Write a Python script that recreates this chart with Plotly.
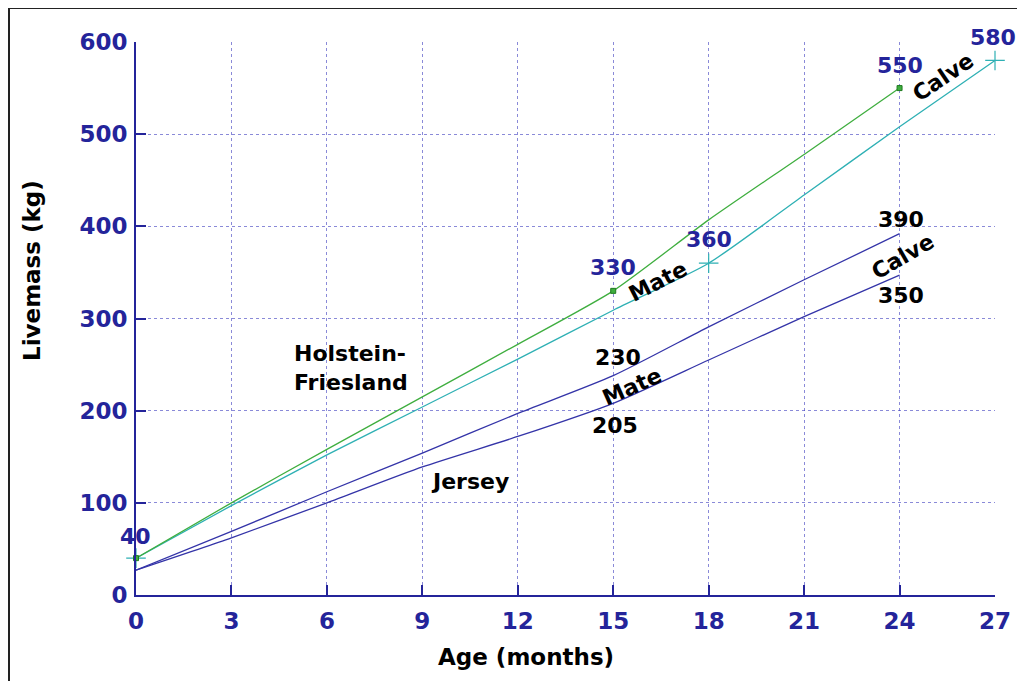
import plotly.graph_objects as go

# ---- data ----
hf_green_x = [0, 3, 6, 9, 12, 15, 18, 21, 24]
hf_green_y = [40, 100, 158, 215, 272, 330, 407, 478, 550]
hf_green_mark_x = [0, 15, 24]
hf_green_mark_y = [40, 330, 550]

hf_cyan_x = [0, 3, 6, 9, 12, 15, 18, 21, 24, 27]
hf_cyan_y = [40, 97, 152, 204, 256, 309, 360, 434, 508, 580]
hf_cyan_mark_x = [0, 18, 27]
hf_cyan_mark_y = [40, 360, 580]

jer_hi_x = [0, 3, 6, 9, 12, 15, 18, 21, 24]
jer_hi_y = [27, 69, 112, 154, 197, 238, 291, 342, 392]
jer_lo_x = [0, 3, 6, 9, 12, 15, 18, 21, 24]
jer_lo_y = [27, 62, 100, 139, 172, 208, 255, 302, 347]

x_ticks = [0, 3, 6, 9, 12, 15, 18, 21, 24, 27]
y_ticks = [0, 100, 200, 300, 400, 500, 600]

NAVY = "#24249a"
GREEN = "#3fae3f"
CYAN = "#2eb0b4"
JNAVY = "#3434a8"
FONT = "DejaVu Sans"

# page body offsets the figure by 8px; plot area in figure pixels
PL, PR, PT, PB = 128, 987, 34, 587
FW, FH = 1017, 673


def px(xp):
    return (xp - PL) / (PR - PL)


def py(yp):
    return (PB - yp) / (PB - PT)


fig = go.Figure()
smooth = dict(shape="spline", smoothing=0.6)
fig.add_trace(go.Scatter(x=jer_lo_x, y=jer_lo_y, mode="lines",
                         line=dict(color=JNAVY, width=1.3, **smooth), hoverinfo="skip"))
fig.add_trace(go.Scatter(x=jer_hi_x, y=jer_hi_y, mode="lines",
                         line=dict(color=JNAVY, width=1.3, **smooth), hoverinfo="skip"))
fig.add_trace(go.Scatter(x=hf_cyan_x, y=hf_cyan_y, mode="lines",
                         line=dict(color=CYAN, width=1.3, **smooth), hoverinfo="skip"))
fig.add_trace(go.Scatter(x=hf_green_x, y=hf_green_y, mode="lines",
                         line=dict(color=GREEN, width=1.3, **smooth), hoverinfo="skip"))
fig.add_trace(go.Scatter(x=hf_cyan_mark_x, y=hf_cyan_mark_y, mode="markers",
                         marker=dict(symbol="cross-thin", size=14,
                                     line=dict(color=CYAN, width=1.2)),
                         cliponaxis=False, hoverinfo="skip"))
fig.add_trace(go.Scatter(x=hf_green_mark_x, y=hf_green_mark_y, mode="markers",
                         marker=dict(symbol="square", size=5, color=GREEN,
                                     line=dict(color="#1f7a1f", width=1)),
                         cliponaxis=False, hoverinfo="skip"))


def label(x, y, text, color="black", angle=0, xanchor="center", align="center",
          xshift=0, yshift=0):
    fig.add_annotation(x=x, y=y, text=text, showarrow=False, textangle=angle,
                       xanchor=xanchor, yanchor="middle", align=align,
                       xshift=xshift, yshift=yshift,
                       font=dict(family=FONT, size=22, color=color, weight="bold"))


# value labels (navy, Holstein-Friesland)
label(0, 40, "40", NAVY, xshift=-1, yshift=22)
label(15, 355, "330", NAVY)
label(18, 386, "360", NAVY)
label(24, 575, "550", NAVY)
label(27, 580, "580", NAVY, xshift=-2, yshift=23)
# black labels
label(25.35, 562, "Calve", angle=-34)
label(16.4, 340, "Mate", angle=-27)
label(24.05, 407, "390")
label(24.1, 367, "Calve", angle=-30)
label(24.05, 325, "350")
label(15.15, 258, "230")
label(15.6, 226, "Mate", angle=-24)
label(15.05, 184, "205")
label(4.9, 246, "Holstein-<br>Friesland", xanchor="left", align="left")
label(10.5, 123, "Jersey")

# axis titles placed as in the reference
fig.add_annotation(xref="paper", yref="paper", x=px(518), y=py(649),
                   text="Age (months)", showarrow=False, xanchor="center", yanchor="middle",
                   font=dict(family=FONT, size=23, color="black", weight="bold"))
fig.add_annotation(xref="paper", yref="paper", x=px(24), y=py(263),
                   text="Livemass (kg)", showarrow=False, textangle=-90,
                   xanchor="center", yanchor="middle",
                   font=dict(family=FONT, size=23, color="black", weight="bold"))

# outer frame (left and top edges visible, right/bottom beyond the view)
fig.add_shape(type="rect", xref="paper", yref="paper",
              x0=px(1), x1=px(FW + 20),
              y0=py(FH + 20), y1=py(0),
              line=dict(color="#222222", width=2), layer="below")

axis_common = dict(
    showline=True, linecolor=NAVY, linewidth=2,
    ticks="inside", ticklen=10, tickcolor=NAVY, tickwidth=1.5,
    showgrid=True, gridcolor="rgba(60,60,190,0.6)", gridwidth=1, griddash="dot",
    zeroline=False, mirror=False,
    tickfont=dict(family=FONT, size=23, color=NAVY, weight="bold"),
)
fig.update_xaxes(range=[0, 27], tickvals=x_ticks, ticklabelstandoff=4, **axis_common)
fig.update_yaxes(range=[0, 600], tickvals=y_ticks, ticklabelstandoff=2, **axis_common)

fig.update_layout(
    width=FW, height=FH, autosize=False,
    margin=dict(l=PL, r=FW - PR, t=PT, b=FH - PB),
    paper_bgcolor="white", plot_bgcolor="white",
    showlegend=False,
)
fig.write_html("out.html")
